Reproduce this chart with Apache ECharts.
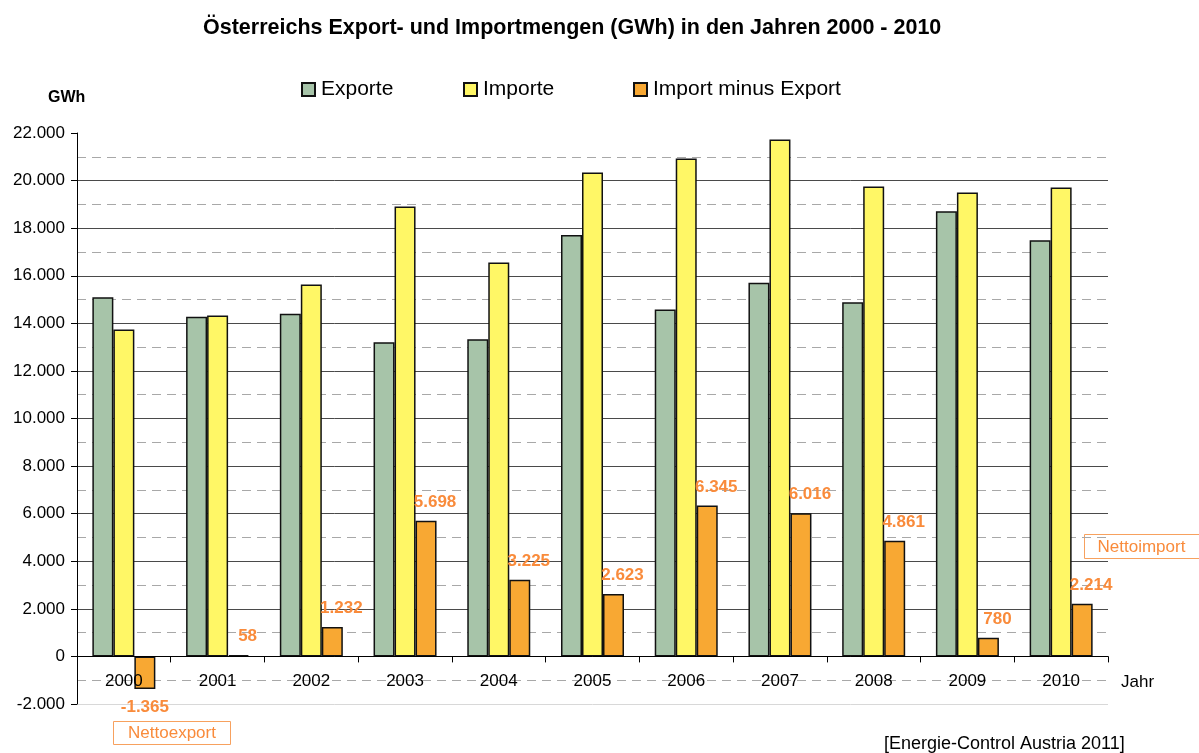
<!DOCTYPE html>
<html>
<head>
<meta charset="utf-8">
<script src="https://cdn.jsdelivr.net/npm/echarts@6/dist/echarts.min.js"></script>
<style>
  html, body { margin: 0; padding: 0; background: #fff; }
  #chart { width: 1199px; height: 753px; }
</style>
</head>
<body>
<div id="chart"></div>
<script>
// Jahre und Strommengen in GWh
const years = ['2000', '2001', '2002', '2003', '2004', '2005', '2006', '2007', '2008', '2009', '2010'];
const exporte = [15101, 14272, 14398, 13210, 13330, 17713, 14579, 15707, 14887, 18716, 17492];
const importe = [13736, 14330, 15630, 18908, 16555, 20336, 20924, 21723, 19748, 19496, 19706];
const importMinusExport = [-1365, 58, 1232, 5698, 3225, 2623, 6345, 6016, 4861, 780, 2214];
const yTicks = { min: -2000, max: 22000, step: 2000 };

const FONT = "'Liberation Sans', Arial, Helvetica, sans-serif";
const ORANGE_TEXT = '#F98B3B';

// Tausenderpunkt wie im deutschen Zahlenformat
function fmt(v) {
  const s = Math.abs(v).toString().replace(/\B(?=(\d{3})+(?!\d))/g, '.');
  return (v < 0 ? '-' : '') + s;
}

// Gitterlinien: unterste hellgrau, oberste ausgeblendet, sonst dunkel
const nLines = (yTicks.max - yTicks.min) / yTicks.step + 1;
const gridColors = [];
for (let i = 0; i < nLines; i++) {
  gridColors.push(i === 0 ? '#d8d8d8' : (i === nLines - 1 ? 'rgba(0,0,0,0)' : '#4a4a4a'));
}

const diffData = importMinusExport.map(v => v < 0
  ? { value: v, label: { position: 'bottom', offset: [0, 0] } }
  : v);

const chart = echarts.init(document.getElementById('chart'), null, { renderer: 'canvas' });

const legendBase = {
  top: 74,
  icon: 'rect',
  itemWidth: 13,
  itemHeight: 13,
  itemGap: 6,
  textStyle: { fontFamily: FONT, fontSize: 21, color: '#000', padding: [0, 0, 0, 1] },
  selectedMode: false
};

chart.setOption({
  animation: false,
  backgroundColor: '#fff',
  textStyle: { fontFamily: FONT },
  title: {
    text: 'Österreichs Export- und Importmengen (GWh) in den Jahren 2000 - 2010',
    left: 198,
    top: 12,
    textStyle: { fontFamily: FONT, fontSize: 21.5, fontWeight: 'bold', color: '#000' }
  },
  legend: [
    Object.assign({}, legendBase, { left: 296, data: ['Exporte'] }),
    Object.assign({}, legendBase, { left: 458, data: ['Importe'] }),
    Object.assign({}, legendBase, { left: 628, data: ['Import minus Export'] })
  ],
  grid: { left: 77, right: 91, top: 133, bottom: 49, containLabel: false },
  xAxis: {
    type: 'category',
    data: years,
    z: 5,
    name: 'Jahr',
    nameLocation: 'end',
    nameGap: 13,
    nameTextStyle: { fontFamily: FONT, fontSize: 17, color: '#000', verticalAlign: 'top', padding: [17, 0, 0, 0] },
    axisLine: { onZero: true, lineStyle: { color: '#000', width: 1 } },
    axisTick: { show: true, alignWithLabel: false, length: 6, lineStyle: { color: '#000' } },
    axisLabel: { fontFamily: FONT, fontSize: 17, color: '#000', margin: -31 },
    splitLine: { show: false }
  },
  yAxis: {
    type: 'value',
    min: yTicks.min,
    max: yTicks.max,
    interval: yTicks.step,
    axisLine: { show: true, lineStyle: { color: '#000', width: 1 } },
    axisTick: { show: true, length: 6, lineStyle: { color: '#000' } },
    axisLabel: { fontFamily: FONT, fontSize: 17, color: '#000', margin: 12, formatter: fmt },
    splitLine: { show: true, lineStyle: { color: gridColors, width: 1 } },
    minorTick: { show: false, splitNumber: 2 },
    minorSplitLine: { show: true, lineStyle: { color: '#a8a8a8', width: 1, type: [9, 6] } }
  },
  graphic: [
    {
      type: 'text', left: 48, top: 90, silent: true,
      style: { text: 'GWh', font: 'bold 16px ' + FONT, fill: '#000' }
    },
    {
      type: 'group', left: 113, top: 721, silent: true,
      children: [
        { type: 'rect', shape: { x: 0, y: 0, width: 117, height: 23 }, style: { fill: '#fff', stroke: '#F7A15E', lineWidth: 1 } },
        { type: 'text', x: 58.5, y: 12, style: { text: 'Nettoexport', font: '17px ' + FONT, fill: ORANGE_TEXT, align: 'center', verticalAlign: 'middle' } }
      ]
    },
    {
      type: 'group', left: 1084, top: 534, silent: true,
      children: [
        { type: 'rect', shape: { x: 0, y: 0, width: 125, height: 24 }, style: { fill: '#fff', stroke: '#F7A15E', lineWidth: 1 } },
        { type: 'text', x: 13, y: 12.5, style: { text: 'Nettoimport', font: '17px ' + FONT, fill: ORANGE_TEXT, align: 'left', verticalAlign: 'middle' } }
      ]
    },
    {
      type: 'text', left: 884, top: 735, silent: true,
      style: { text: '[Energie-Control Austria 2011]', font: '18px ' + FONT, fill: '#000' }
    }
  ],
  series: [
    {
      name: 'Exporte',
      type: 'bar',
      data: exporte,
      barWidth: 21,
      barGap: '0%',
      itemStyle: { color: '#A7C4A9', borderColor: '#111', borderWidth: 1.5 }
    },
    {
      name: 'Importe',
      type: 'bar',
      data: importe,
      barWidth: 21,
      barGap: '0%',
      itemStyle: { color: '#FFF766', borderColor: '#111', borderWidth: 1.5 }
    },
    {
      name: 'Import minus Export',
      type: 'bar',
      data: diffData,
      barWidth: 21,
      barGap: '0%',
      itemStyle: { color: '#F8A833', borderColor: '#111', borderWidth: 1.5 },
      label: {
        show: true,
        position: 'top',
        distance: 10,
        offset: [9, 0],
        fontFamily: FONT,
        fontSize: 17,
        fontWeight: 'bold',
        color: ORANGE_TEXT,
        formatter: p => fmt(p.value)
      },
      z: 3
    }
  ]
});
</script>
</body>
</html>
